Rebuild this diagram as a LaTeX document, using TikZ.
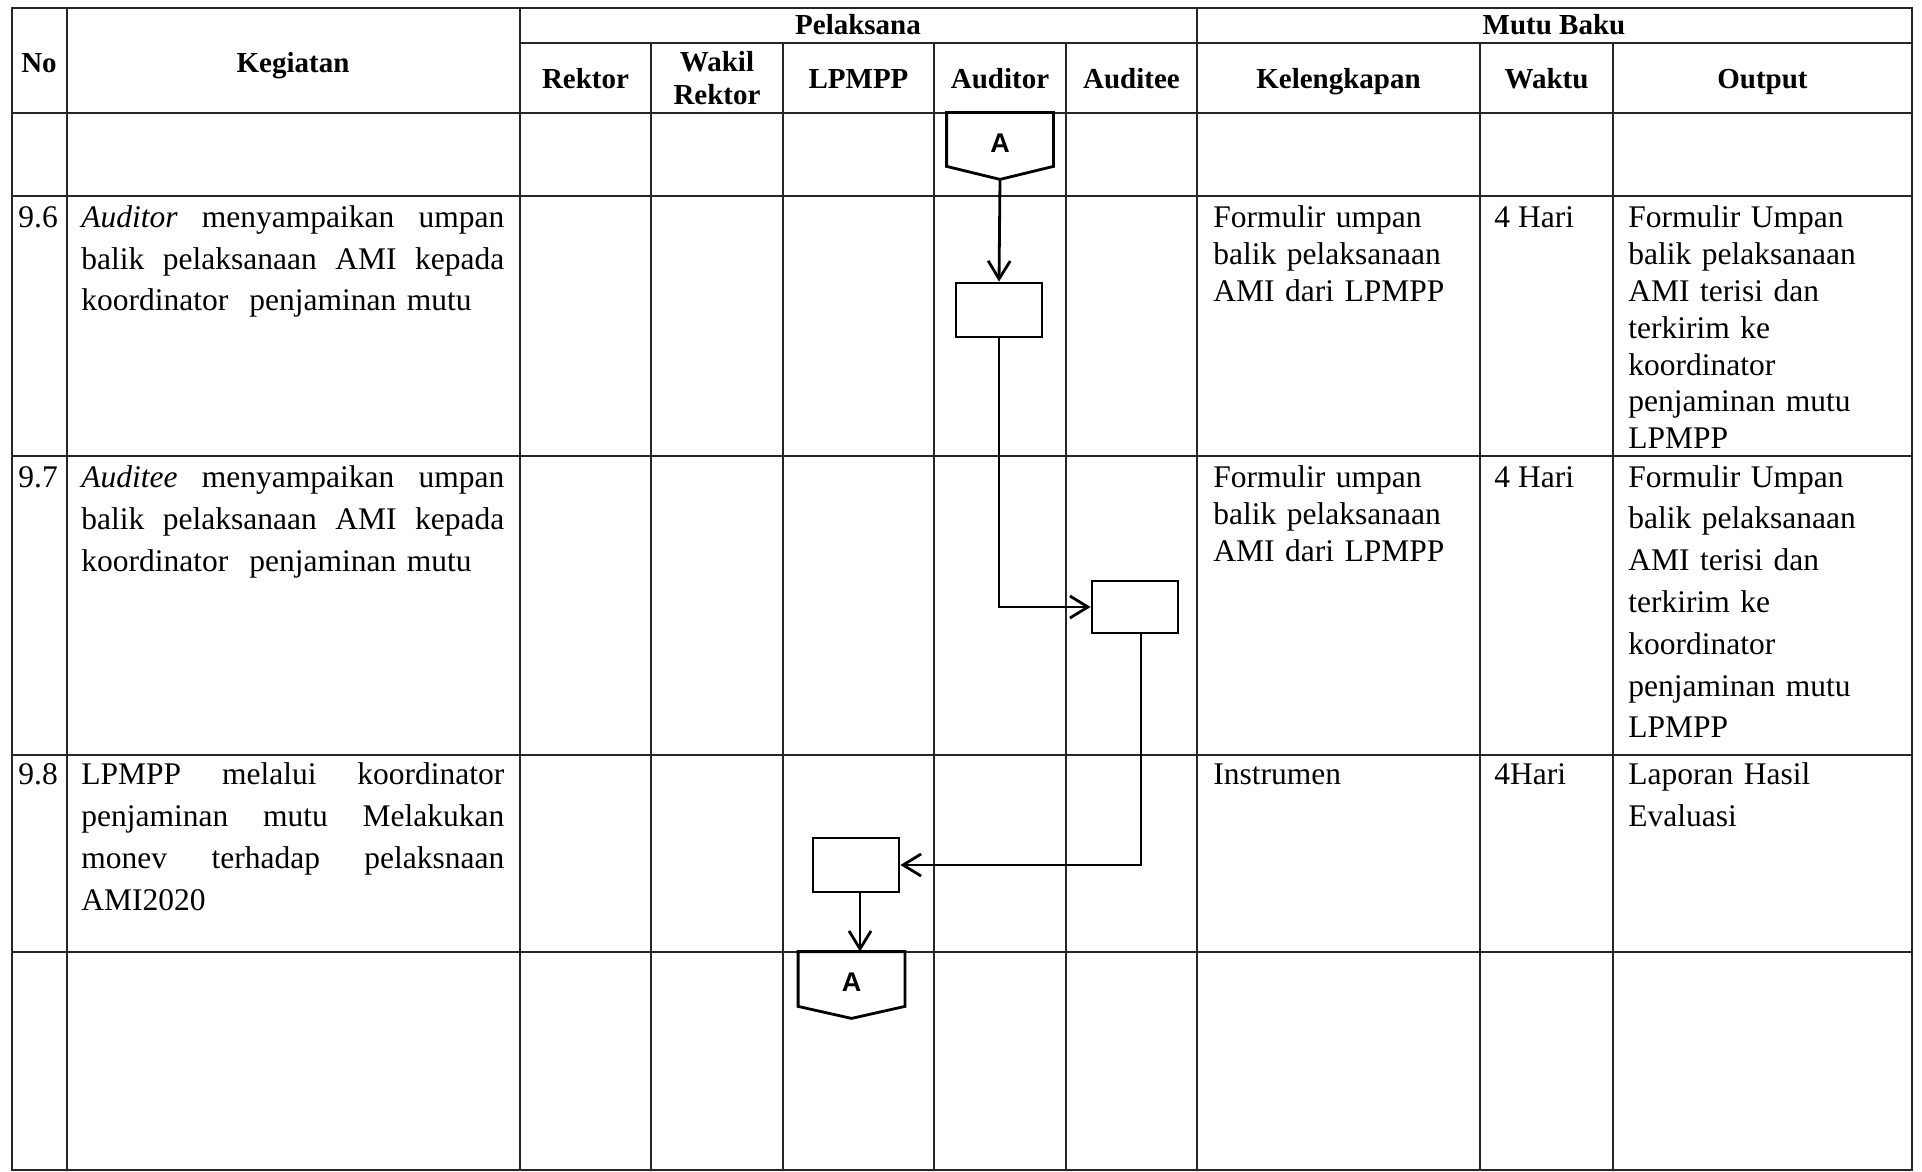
\documentclass[tikz,border=0pt]{standalone}
\usepackage{fontspec}
\setmainfont{Liberation Serif}
\newfontfamily\connfont{Liberation Sans}
\usetikzlibrary{arrows.meta,calc}
\newcommand\justline[1]{{\spaceskip=0.25em plus 1fil\relax\xspaceskip=0.25em plus 1fil\relax\makebox[211.5pt][s]{#1}}}
\begin{document}
\begin{tikzpicture}[x=0.5pt,y=-0.5pt,
  grid/.style={line width=0.9pt, black!85},
  flow/.style={line width=1.4pt},
  arr/.style={flow, -{Straight Barb[length=9pt,width=11pt]}},
  hdr/.style={font=\fontsize{14.5}{16.5}\selectfont\bfseries, inner sep=0pt, anchor=base},
  body/.style={font=\fontsize{15.75}{21}\selectfont, inner sep=0pt, anchor=base west, align=left},
  tight/.style={font=\fontsize{15.75}{18.5}\selectfont},
  procbox/.style={draw, fill=white, flow, minimum width=43pt, minimum height=27pt, inner sep=0pt},
  conn/.style={minimum width=53pt, minimum height=33pt, inner sep=0pt,
    font=\connfont\fontsize{13.5}{15}\selectfont\bfseries, text depth=3pt},
]
\useasboundingbox (0,0) rectangle (1922,1172);

% ---------- table grid ----------
\draw[grid] (12,8) rectangle (1912,1170);
\foreach \yy in {113,196,456,755,952} \draw[grid] (12,\yy) -- (1912,\yy);
\draw[grid] (520,43) -- (1912,43);
\foreach \xx in {67,520,1197} \draw[grid] (\xx,8) -- (\xx,1170);
\foreach \xx in {651,783,934,1066,1480,1613} \draw[grid] (\xx,43) -- (\xx,1170);

% ---------- header ----------
\node[hdr] (hNo) at (39,73) {No};
\node[hdr] (hKeg) at (293,73) {Kegiatan};
\node[hdr] (hPel) at (858,35) {Pelaksana};
\node[hdr] (hMutu) at (1554,35) {Mutu Baku};
\node[hdr] (hRek) at (585.5,89) {Rektor};
\node[hdr, text width=60pt, align=center] (hWak) at (717,72) {Wakil\\Rektor};
\node[hdr] (hLp) at (858.5,89) {LPMPP};
\node[hdr] (hAud) at (1000,89) {Auditor};
\node[hdr] (hAdt) at (1131.5,89) {Auditee};
\node[hdr] (hKel) at (1338.5,89) {Kelengkapan};
\node[hdr] (hWkt) at (1546.5,89) {Waktu};
\node[hdr] (hOut) at (1762.5,89) {Output};

% ---------- row 9.6 ----------
\node[body] (n96) at (18,227) {9.6};
\node[body, text width=211.5pt] (k96) at (81,227)
  {\justline{\textit{Auditor} menyampaikan umpan}\\\justline{balik pelaksanaan AMI kepada}\\koordinator~ penjaminan mutu};
\node[body, tight, text width=132pt] (kel96) at (1213,227) {Formulir umpan\\balik pelaksanaan\\AMI dari LPMPP};
\node[body] (w96) at (1494,227) {4 Hari};
\node[body, tight, text width=140pt] (o96) at (1628,227)
  {Formulir Umpan\\balik pelaksanaan\\AMI terisi dan\\terkirim ke\\koordinator\\penjaminan mutu\\LPMPP};

% ---------- row 9.7 ----------
\node[body] (n97) at (18,487) {9.7};
\node[body, text width=211.5pt] (k97) at (81,487)
  {\justline{\textit{Auditee} menyampaikan umpan}\\\justline{balik pelaksanaan AMI kepada}\\koordinator~ penjaminan mutu};
\node[body, tight, text width=132pt] (kel97) at (1213,487) {Formulir umpan\\balik pelaksanaan\\AMI dari LPMPP};
\node[body] (w97) at (1494,487) {4 Hari};
\node[body, font=\fontsize{15.75}{20.9}\selectfont, text width=140pt] (o97) at (1628,487)
  {Formulir Umpan\\balik pelaksanaan\\AMI terisi dan\\terkirim ke\\koordinator\\penjaminan mutu\\LPMPP};

% ---------- row 9.8 ----------
\node[body] (n98) at (18,784) {9.8};
\node[body, text width=211.5pt] (k98) at (81,784)
  {\justline{LPMPP melalui koordinator}\\\justline{penjaminan mutu Melakukan}\\\justline{monev terhadap pelaksnaan}\\AMI2020};
\node[body] (kel98) at (1213,784) {Instrumen};
\node[body] (w98) at (1494,784) {4Hari};
\node[body, text width=140pt] (o98) at (1628,784) {Laporan Hasil\\Evaluasi};

% ---------- flow shapes ----------
\node[conn] (cA) at (1000,146) {};
\draw[flow, fill=white] (cA.north west) -- (cA.north east) -- ([yshift=6.5pt]cA.south east)
  -- (cA.south) -- ([yshift=6.5pt]cA.south west) -- cycle;
\node[conn] (cAtxt) at (cA.center) {A};

\node[procbox] (b1) at (999,310) {};
\node[procbox, minimum height=26pt] (b2) at (1135,607) {};
\node[procbox] (b3) at (856,865) {};

\node[conn] (cB) at (851.5,985) {};
\draw[flow, fill=white] (cB.north west) -- (cB.north east) -- ([yshift=6pt]cB.south east)
  -- (cB.south) -- ([yshift=6pt]cB.south west) -- cycle;
\node[conn] (cBtxt) at (cB.center) {A};

% ---------- connectors ----------
\draw[arr] (cA.south) -- (b1.north);
\draw[arr] (b1.south) |- (b2.west);
\draw[arr] ([xshift=3pt]b2.south) |- (b3.east);
\draw[arr] ([xshift=2pt]b3.south) -- ([xshift=2pt]b3.south |- cB.north);
\end{tikzpicture}
\end{document}
